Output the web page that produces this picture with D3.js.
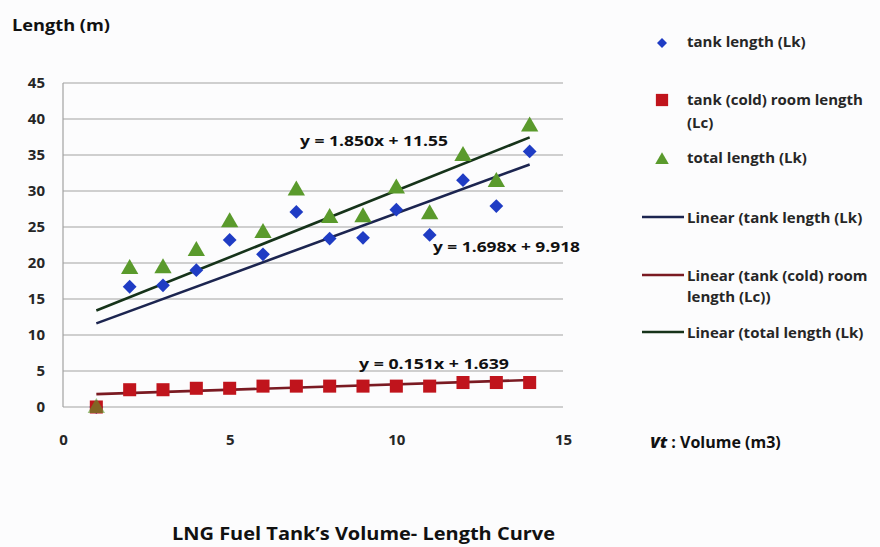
<!DOCTYPE html>
<html><head><meta charset="utf-8">
<script src="https://cdn.jsdelivr.net/npm/d3@7"></script>
<style>
html,body{margin:0;padding:0;background:#fcfcfd;}
svg{display:block;font-family:"Open Sans",Lato,sans-serif;font-weight:700;}
</style></head>
<body><svg id="c" width="880" height="547"></svg>
<script>
const volumes = [1,2,3,4,5,6,7,8,9,10,11,12,13,14];
const tankLength = [0,16.7,16.9,19.0,23.2,21.2,27.1,23.4,23.5,27.4,23.9,31.5,27.9,35.5];
const roomLength = [0,2.4,2.4,2.6,2.6,2.9,2.9,2.9,2.9,2.9,2.9,3.4,3.4,3.4];
const totalLength = [0,19.3,19.4,21.8,25.8,24.3,30.2,26.4,26.5,30.5,26.9,35.0,31.4,39.1];
const trendNames = ["tank length (Lk)","tank (cold) room length (Lc)","total length (Lk)"];
const trendSlopes = [1.698,0.151,1.850];
const trendIntercepts = [9.918,1.639,11.55];
const trendLabels = ["y = 1.698x + 9.918","y = 0.151x + 1.639","y = 1.850x + 11.55"];
const xTicks = [0,5,10,15];
const yTicks = [0,5,10,15,20,25,30,35,40,45];

const svg = d3.select("#c");
const L=63,R=563,T=83,B=407;
const x = d3.scaleLinear().domain([0,15]).range([L,R]);
const y = d3.scaleLinear().domain([0,45]).range([B,T]);

// gridlines
svg.append("g").selectAll("line").data(yTicks).join("line")
  .attr("x1",L).attr("x2",R).attr("y1",d=>y(d)).attr("y2",d=>y(d))
  .attr("stroke","#a2a2a2").attr("stroke-width",1.2);
svg.append("line").attr("x1",L).attr("x2",L).attr("y1",T).attr("y2",B)
  .attr("stroke","#a2a2a2").attr("stroke-width",1.2);

// axes labels via d3 axes
const ya = svg.append("g").attr("transform",`translate(${L},0)`)
  .call(d3.axisLeft(y).tickValues(yTicks).tickSize(0).tickPadding(18));
ya.select(".domain").remove();
ya.selectAll("text").attr("font-size",15).attr("font-family","'Open Sans',sans-serif").attr("font-weight",700).attr("fill","#262626");
const xa = svg.append("g").attr("transform",`translate(0,${B})`)
  .call(d3.axisBottom(x).tickValues(xTicks).tickSize(0).tickPadding(27));
xa.select(".domain").remove();
xa.selectAll("text").attr("font-size",15).attr("font-family","'Open Sans',sans-serif").attr("font-weight",700).attr("fill","#262626");

// trend lines
const trendColors = ["#1c2550","#7a1a22","#16331a"];
trendSlopes.forEach((m,i)=>{
  const b = trendIntercepts[i];
  svg.append("line")
    .attr("x1",x(1)).attr("y1",y(m*1+b))
    .attr("x2",x(14)).attr("y2",y(m*14+b))
    .attr("stroke",trendColors[i]).attr("stroke-width",2.6);
});

// markers
const sym = (type,size)=>d3.symbol().type(type).size(size)();
svg.append("g").selectAll("path").data(volumes).join("path")
  .attr("d",sym(d3.symbolSquare,95))
  .attr("transform",(d,i)=>`translate(${x(d)},${y(tankLength[i])}) rotate(45)`)
  .attr("fill","#1f3cc4");
svg.append("g").selectAll("path").data(volumes).join("path")
  .attr("d",sym(d3.symbolSquare,170))
  .attr("transform",(d,i)=>`translate(${x(d)},${y(roomLength[i])})`)
  .attr("fill","#c0141c");
svg.append("g").selectAll("path").data(volumes).join("path")
  .attr("d",sym(d3.symbolTriangle,130))
  .attr("transform",(d,i)=>`translate(${x(d)},${y(totalLength[i])+1})`)
  .attr("fill","#5a9a2c").attr("fill-opacity",(d,i)=>i===0?0.6:1);

// equation labels
const eqPos = [[433,252,147],[359,369,150],[300,146,148]];
trendLabels.forEach((t,i)=>{
  svg.append("text").attr("x",eqPos[i][0]).attr("y",eqPos[i][1])
    .attr("font-size",15).attr("fill","#111")
    .attr("textLength",eqPos[i][2]).attr("lengthAdjust","spacingAndGlyphs").text(t);
});

// axis titles
svg.append("text").attr("x",12).attr("y",31).attr("font-size",16).attr("fill","#111")
  .attr("textLength",98).attr("lengthAdjust","spacingAndGlyphs").text("Length (m)");
const vt = svg.append("text").attr("x",650).attr("y",448).attr("font-size",16).attr("fill","#111");
vt.append("tspan").attr("font-style","italic").attr("font-weight",800).text("Vt");
vt.append("tspan").text(" : Volume (m3)");
svg.append("text").attr("x",172).attr("y",540).attr("font-size",18).attr("fill","#111")
  .attr("textLength",383).attr("lengthAdjust","spacingAndGlyphs")
  .text("LNG Fuel Tank\u2019s Volume- Length Curve");

// legend
const lg = svg.append("g").attr("font-size",15).attr("fill","#262626");
lg.append("path").attr("d",sym(d3.symbolSquare,50)).attr("transform","translate(662,43) rotate(45)").attr("fill","#1f3cc4");
lg.append("text").attr("x",687).attr("y",47).text("tank length (Lk)");
lg.append("path").attr("d",sym(d3.symbolSquare,150)).attr("transform","translate(662,100)").attr("fill","#c0141c");
lg.append("text").attr("x",687).attr("y",105).text("tank (cold) room length");
lg.append("text").attr("x",687).attr("y",128).text("(Lc)");
lg.append("path").attr("d",sym(d3.symbolTriangle,80)).attr("transform","translate(662,160)").attr("fill","#5a9a2c");
lg.append("text").attr("x",687).attr("y",163).text("total length (Lk)");
const lineLeg = [["Linear (tank length (Lk)",null,217],["Linear (tank (cold) room","length (Lc))",275],["Linear (total length (Lk)",null,332]];
lineLeg.forEach((d,i)=>{
  lg.append("line").attr("x1",642).attr("x2",684).attr("y1",d[2]).attr("y2",d[2]).attr("stroke",trendColors[i]).attr("stroke-width",2.6);
  lg.append("text").attr("x",687).attr("y",d[2]+6).text(d[0]);
  if(d[1]) lg.append("text").attr("x",687).attr("y",d[2]+27).text(d[1]);
});
</script></body></html>
